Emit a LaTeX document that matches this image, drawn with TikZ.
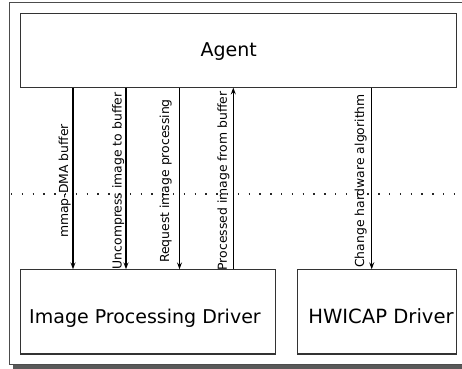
\documentclass[tikz,border=0pt]{standalone}
\usepackage{fontspec}
\setmainfont{DejaVu Sans}
\usetikzlibrary{arrows.meta}
\begin{document}
\begin{tikzpicture}[x=1pt,y=-1pt,
  box/.style={draw=black!80, line width=1.1pt, rectangle, inner sep=0pt, outer sep=0pt},
  bigtxt/.style={font=\fontsize{19}{22}\selectfont},
  arr/.style={line width=1.4pt, draw=black, -{Stealth[length=7pt,width=5pt,inset=2.5pt]}},
  lbl/.style={font=\fontsize{12.4}{14}\selectfont, rotate=90, anchor=base, inner sep=0pt},
  dotline/.style={line width=1.3pt, dash pattern=on 1.3pt off 9.5pt, black!85}
]
\useasboundingbox (0,0) rectangle (462,368);
% outer frame with shadow
\fill[black!65] (13,365) rectangle (476,369);
\draw[black!70, line width=0.8pt, fill=white] (9.5,2) rectangle (472,364.5);
% dotted separator
\draw[dotline] (11,194) -- (462,194);
% boxes
\node[box, minimum width=436pt, minimum height=74.2pt, bigtxt] (agent) at (238.5,50.4) {\raisebox{-5.6pt}[0pt][0pt]{Agent\hspace*{19.4pt}}};
\node[box, minimum width=254.6pt, minimum height=84.7pt, bigtxt] (ipd) at (148,311.65) {\raisebox{-11.6pt}[0pt][0pt]{Image Processing Driver\hspace*{6pt}}};
\node[box, minimum width=159.4pt, minimum height=84.7pt, font=\fontsize{19.6}{22}\selectfont] (hw) at (377,311.65) {\raisebox{-11.6pt}[0pt][0pt]{\hspace*{8pt}HWICAP Driver}};
% x positions of connectors
\coordinate (c1) at (73,0);
\coordinate (c2) at (126,0);
\coordinate (c3) at (179.5,0);
\coordinate (c4) at (233.3,0);
\coordinate (c5) at (371.7,0);
% connectors
\draw[arr] (agent.south -| c1) -- (ipd.north -| c1);
\draw[arr] (agent.south -| c2) -- (ipd.north -| c2);
\draw[arr] (agent.south -| c3) -- (ipd.north -| c3);
\draw[arr] (ipd.north -| c4) -- (agent.south -| c4);
\draw[arr] (agent.south -| c5) -- (hw.north -| c5);
% labels
\node[lbl] (l1) at (68,181) {mmap-DMA buffer};
\node[lbl] (l2) at (121.5,181) {Uncompress image to buffer};
\node[lbl] (l3) at (169,181) {Request image processing};
\node[lbl] (l4) at (226.8,181) {Processed image from buffer};
\node[lbl] (l5) at (364.2,181) {Change hardware algorithm};
\end{tikzpicture}
\end{document}
